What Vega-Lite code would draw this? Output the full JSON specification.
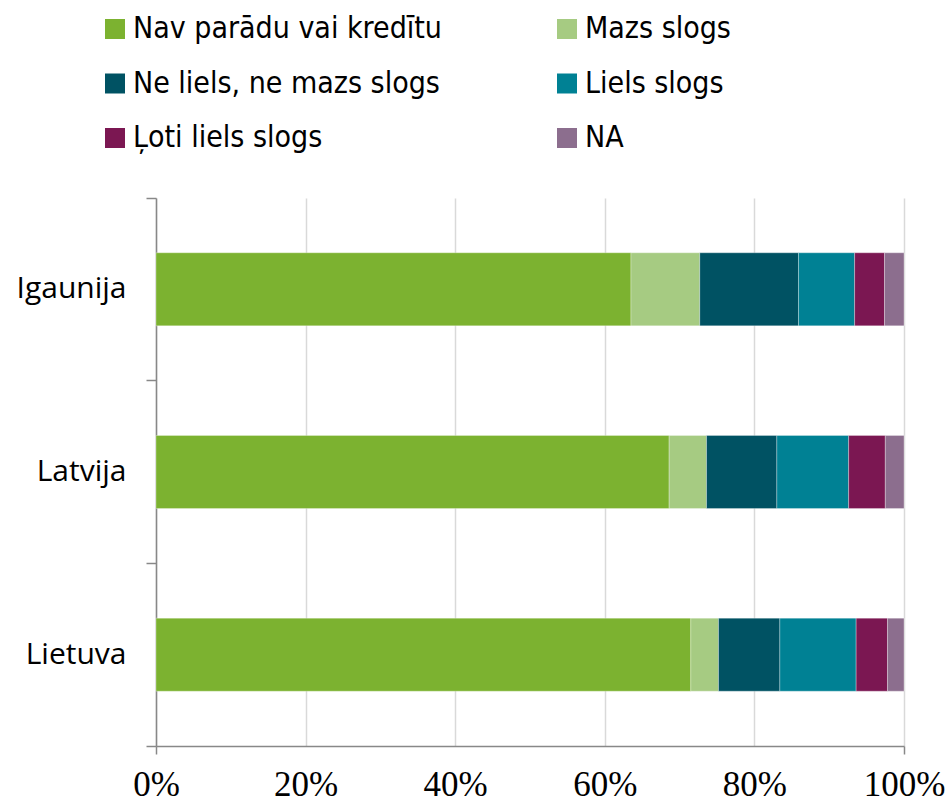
{
  "$schema": "https://vega.github.io/schema/vega-lite/v6.json",
  "autosize": "none",
  "width": 748,
  "height": 548,
  "padding": {"left": 156, "top": 198, "right": 43, "bottom": 59},
  "background": "white",
  "config": {"view": {"stroke": null}},
  "data": {"values": [
    {"country": "Igaunija", "cat": "Nav parādu vai kredītu", "idx": 1, "v": 63.5},
    {"country": "Igaunija", "cat": "Mazs slogs", "idx": 2, "v": 9.2},
    {"country": "Igaunija", "cat": "Ne liels, ne mazs slogs", "idx": 3, "v": 13.2},
    {"country": "Igaunija", "cat": "Liels slogs", "idx": 4, "v": 7.5},
    {"country": "Igaunija", "cat": "Ļoti liels slogs", "idx": 5, "v": 4.0},
    {"country": "Igaunija", "cat": "NA", "idx": 6, "v": 2.6},
    {"country": "Latvija", "cat": "Nav parādu vai kredītu", "idx": 1, "v": 68.6},
    {"country": "Latvija", "cat": "Mazs slogs", "idx": 2, "v": 5.0},
    {"country": "Latvija", "cat": "Ne liels, ne mazs slogs", "idx": 3, "v": 9.4},
    {"country": "Latvija", "cat": "Liels slogs", "idx": 4, "v": 9.6},
    {"country": "Latvija", "cat": "Ļoti liels slogs", "idx": 5, "v": 4.9},
    {"country": "Latvija", "cat": "NA", "idx": 6, "v": 2.5},
    {"country": "Lietuva", "cat": "Nav parādu vai kredītu", "idx": 1, "v": 71.5},
    {"country": "Lietuva", "cat": "Mazs slogs", "idx": 2, "v": 3.7},
    {"country": "Lietuva", "cat": "Ne liels, ne mazs slogs", "idx": 3, "v": 8.2},
    {"country": "Lietuva", "cat": "Liels slogs", "idx": 4, "v": 10.2},
    {"country": "Lietuva", "cat": "Ļoti liels slogs", "idx": 5, "v": 4.2},
    {"country": "Lietuva", "cat": "NA", "idx": 6, "v": 2.2}
  ]},
  "resolve": {"axis": {"x": "independent", "y": "independent"}},
  "layer": [
    {
      "mark": {"type": "bar", "height": {"band": 0.4}, "stroke": "white", "strokeWidth": 0.6, "strokeOpacity": 0.5},
      "encoding": {
        "y": {
          "field": "country", "type": "nominal",
          "sort": ["Igaunija", "Latvija", "Lietuva"],
          "scale": {"paddingInner": 0, "paddingOuter": 0},
          "axis": {
            "title": null, "orient": "left", "bandPosition": 0, "domainColor": "#888888", "domainWidth": 1.5,
            "tickColor": "#888888", "tickWidth": 1.5, "tickSize": 10,
            "labelFont": "Open Sans", "labelFontSize": 30, "labelColor": "#000000", "labelPadding": 20
          }
        },
        "x": {
          "field": "v", "type": "quantitative", "stack": "zero",
          "scale": {"domain": [0, 100], "nice": false},
          "axis": {
            "title": null, "orient": "bottom", "values": [0, 20, 40, 60, 80, 100], "labelExpr": "datum.value + '%'",
            "grid": true, "gridColor": "#d9d9d9", "gridWidth": 1.5, "labelFlush": false, "labelOverlap": false,
            "ticks": false, "domainColor": "#888888", "domainWidth": 1.5,
            "labelFont": "Liberation Serif", "labelFontSize": 35, "labelColor": "#000000", "labelPadding": 21
          }
        },
        "order": {"field": "idx", "type": "quantitative"},
        "color": {
          "field": "cat", "type": "nominal",
          "scale": {
            "domain": ["Nav parādu vai kredītu", "Mazs slogs", "Ne liels, ne mazs slogs", "Liels slogs", "Ļoti liels slogs", "NA"],
            "range": ["#7cb230", "#a6cb82", "#005263", "#008194", "#7b1752", "#8c6e8e"]
          },
          "legend": {
            "title": null, "orient": "none", "legendX": -56, "legendY": -184, "direction": "horizontal",
            "columns": 2, "columnPadding": 110, "rowPadding": 24.5,
            "symbolType": "square", "symbolSize": 400, "symbolStrokeWidth": 0,
            "labelFont": "DejaVu Sans Condensed", "labelFontSize": 30, "labelColor": "#000000",
            "labelOffset": 3, "labelLimit": 500
          }
        }
      }
    },
    {
      "mark": {"type": "bar", "height": {"band": 0.4}, "opacity": 0},
      "encoding": {
        "y": {
          "field": "country", "type": "nominal",
          "sort": ["Igaunija", "Latvija", "Lietuva"],
          "axis": {
            "title": null, "orient": "left", "bandPosition": 1, "values": ["Lietuva"], "labels": false, "domain": false,
            "tickColor": "#888888", "tickWidth": 1.5, "tickSize": 10
          }
        },
        "x": {
          "field": "v", "type": "quantitative", "stack": "zero",
          "axis": {
            "title": null, "orient": "bottom", "values": [0, 100], "labels": false, "domain": false, "grid": false,
            "tickColor": "#888888", "tickWidth": 1.5, "tickSize": 8
          }
        },
        "order": {"field": "idx", "type": "quantitative"}
      }
    }
  ]
}
